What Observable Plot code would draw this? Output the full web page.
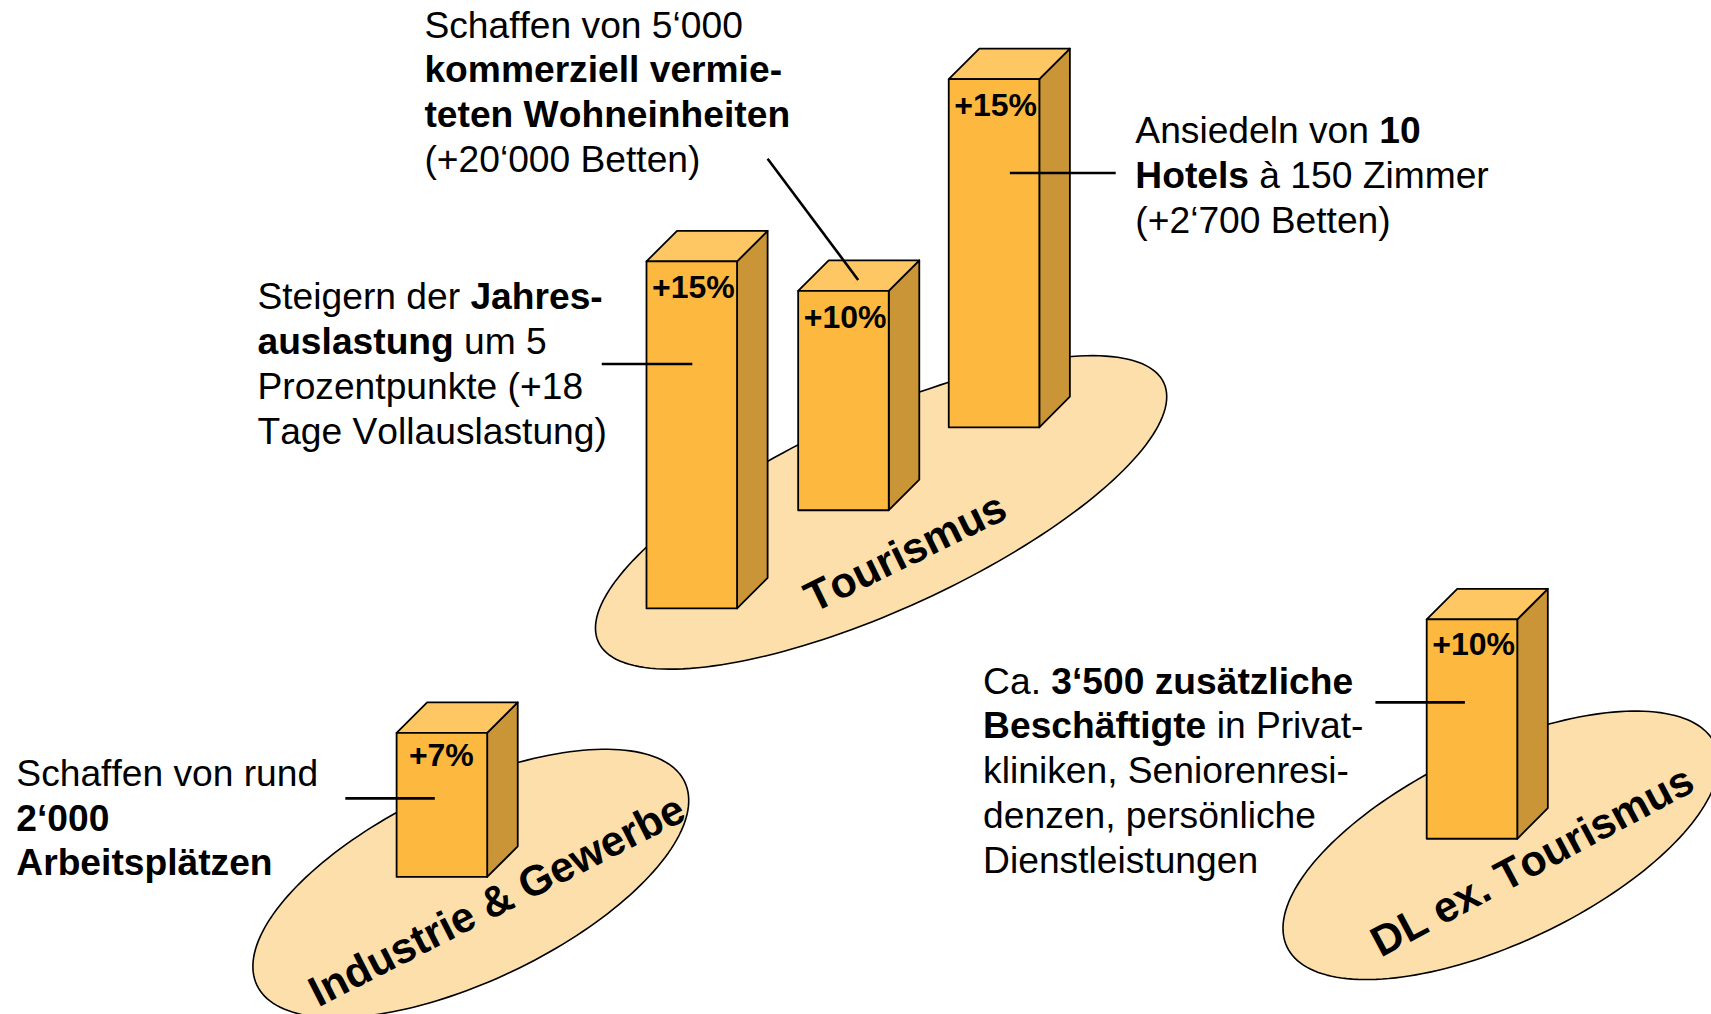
<!DOCTYPE html>
<html>
<head>
<meta charset="utf-8">
<style>html,body{margin:0;padding:0;background:#fff;overflow:hidden}svg{display:block}svg text{font-kerning:none}</style>
<script src="https://cdn.jsdelivr.net/npm/d3@7"></script>
<script src="https://cdn.jsdelivr.net/npm/@observablehq/plot@0.6"></script>
</head>
<body>
<div id="chart"></div>
<script>
// Bars: one per measure, in reading order
const barLabels = ["+15%", "+10%", "+15%", "+7%", "+10%"];
const barRise   = [318, 201, 319, 132, 201];
const barLeft   = [592, 731, 869, 363, 1307];
const barBase   = [557, 467, 391, 803, 768];
const barWidth  = 83;
const barDepth  = 28;
const labelDrop = [24.2, 24.2, 24.2, 21, 23.2];
const labelNudge = [1.5, 1.5, 1.5, -0.5, 1.5];

// Sectors (ellipses on the ground)
const sectorNames  = ["Tourismus", "Industrie & Gewerbe", "DL ex. Tourismus"];
const sectorCx     = [807, 431, 1375];
const sectorCy     = [469, 809, 774];
const sectorA      = [285, 217, 217];
const sectorB      = [89, 89, 89];
const sectorTilt   = [24.6, 25.4, 25.4];
const sectorLabelX = [829.5, 455, 1404];
const sectorLabelY = [506, 825, 789];
const sectorLabelR = [-26, -27, -28];

// Leader lines
const leaderX1 = [551, 703, 925, 316, 1260];
const leaderY1 = [333, 145, 158, 731, 643];
const leaderX2 = [634, 786, 1022, 398, 1342];
const leaderY2 = [333, 256, 158, 731, 643];

// Notes: **…** marks bold text
const noteX = [388.5, 1040, 235.5, 14.5, 900.5];
const noteY = [23.1, 120.1, 272.1, 708.6, 624.1];
const noteLines = [
  ["Schaffen von 5‘000", "**kommerziell vermie-**", "**teten Wohneinheiten**", "(+20‘000 Betten)"],
  ["Ansiedeln von **10**", "**Hotels** à 150 Zimmer", "(+2‘700 Betten)"],
  ["Steigern der **Jahres-**", "**auslastung** um 5", "Prozentpunkte (+18", "Tage Vollauslastung)"],
  ["Schaffen von rund", "**2‘000**", "**Arbeitsplätzen**"],
  ["Ca. **3‘500 zusätzliche**", "**Beschäftigte** in Privat-", "kliniken, Seniorenresi-", "denzen, persönliche", "Dienstleistungen"]
];
const noteLeading = 41;

const W = 1711, H = 1014, X = 1568, Y = 929;
const FONT = "Liberation Sans";
const noteSize = 37.2, pctSize = 32, sectorSize = 42.7;

// Colours
const cFront = "#FDB93F", cTop = "#FFC763", cSide = "#CA9536", cGround = "#FCDFAB";

// --- derived tables for the marks ---
const bars = barLabels.map((label, i) => ({
  label, l: barLeft[i], r: barLeft[i] + barWidth, b: barBase[i], t: barBase[i] - barRise[i], drop: labelDrop[i], nudge: labelNudge[i]
}));
const face = (pts, id) => pts.map(([x, y]) => ({x, y, id}));
const fronts = bars.flatMap((d, i) => face([[d.l,d.t],[d.r,d.t],[d.r,d.b],[d.l,d.b],[d.l,d.t]], i));
const tops = bars.flatMap((d, i) => face([[d.l,d.t],[d.l+barDepth,d.t-barDepth],[d.r+barDepth,d.t-barDepth],[d.r,d.t],[d.l,d.t]], i));
const sides = bars.flatMap((d, i) => face([[d.r,d.t],[d.r+barDepth,d.t-barDepth],[d.r+barDepth,d.b-barDepth],[d.r,d.b],[d.r,d.t]], i));

const ellipses = sectorNames.flatMap((name, i) => {
  const th = -sectorTilt[i] * Math.PI / 180;
  return d3.range(0, 361, 2).map(deg => {
    const u = sectorA[i] * Math.cos(deg * Math.PI / 180), v = sectorB[i] * Math.sin(deg * Math.PI / 180);
    return {x: sectorCx[i] + u * Math.cos(th) - v * Math.sin(th), y: sectorCy[i] + u * Math.sin(th) + v * Math.cos(th), id: name};
  });
});

const sectors = sectorNames.map((name, i) => ({name, x: sectorLabelX[i], y: sectorLabelY[i], r: sectorLabelR[i]}));
const leaders = leaderX1.map((_, i) => ({x1: leaderX1[i], y1: leaderY1[i], x2: leaderX2[i], y2: leaderY2[i]}));

const ctx = document.createElement("canvas").getContext("2d");
ctx.fontKerning = "none";
const runs = noteLines.flatMap((lines, n) => lines.flatMap((line, k) => {
  let x = noteX[n];
  const y = noteY[n] + k * noteLeading;
  return line.split("**").map((text, j) => ({text, bold: j % 2 === 1})).filter(d => d.text).map(d => {
    ctx.font = `${d.bold ? "bold " : ""}${noteSize}px "${FONT}"`;
    const run = {...d, x, y};
    x += ctx.measureText(d.text).width * X / W;
    return run;
  });
}));

const plot = Plot.plot({
  width: W, height: H, margin: 0,
  x: {domain: [0, X], range: [0, W], axis: null},
  y: {domain: [0, Y], range: [0, H], axis: null},
  style: {background: "#fff", fontFamily: FONT},
  marks: [
    Plot.line(ellipses, {x: "x", y: "y", z: "id", fill: cGround, stroke: "#000", strokeWidth: 1.6, curve: "linear"}),
    Plot.line(sides, {x: "x", y: "y", z: "id", fill: cSide, stroke: "#000", strokeWidth: 1.8, curve: "linear"}),
    Plot.line(tops, {x: "x", y: "y", z: "id", fill: cTop, stroke: "#000", strokeWidth: 1.8, curve: "linear"}),
    Plot.line(fronts, {x: "x", y: "y", z: "id", fill: cFront, stroke: "#000", strokeWidth: 1.8, curve: "linear"}),
    Plot.text(bars, {x: d => (d.l + d.r) / 2 + d.nudge, y: d => d.t + d.drop, text: "label", fontSize: pctSize, fontWeight: "bold", fill: "#000", lineAnchor: "middle"}),
    Plot.text(sectors, {x: "x", y: "y", text: "name", rotate: d => d.r, fontSize: sectorSize, fontWeight: "bold", fill: "#000", lineAnchor: "middle"}),
    Plot.link(leaders, {x1: "x1", y1: "y1", x2: "x2", y2: "y2", stroke: "#000", strokeWidth: 2.6, curve: "linear"}),
    Plot.text(runs.filter(d => !d.bold), {x: "x", y: "y", text: "text", textAnchor: "start", lineAnchor: "middle", fontSize: noteSize, fill: "#000"}),
    Plot.text(runs.filter(d => d.bold), {x: "x", y: "y", text: "text", textAnchor: "start", lineAnchor: "middle", fontSize: noteSize, fontWeight: "bold", fill: "#000"})
  ]
});
document.getElementById("chart").append(plot);
</script>
</body>
</html>
